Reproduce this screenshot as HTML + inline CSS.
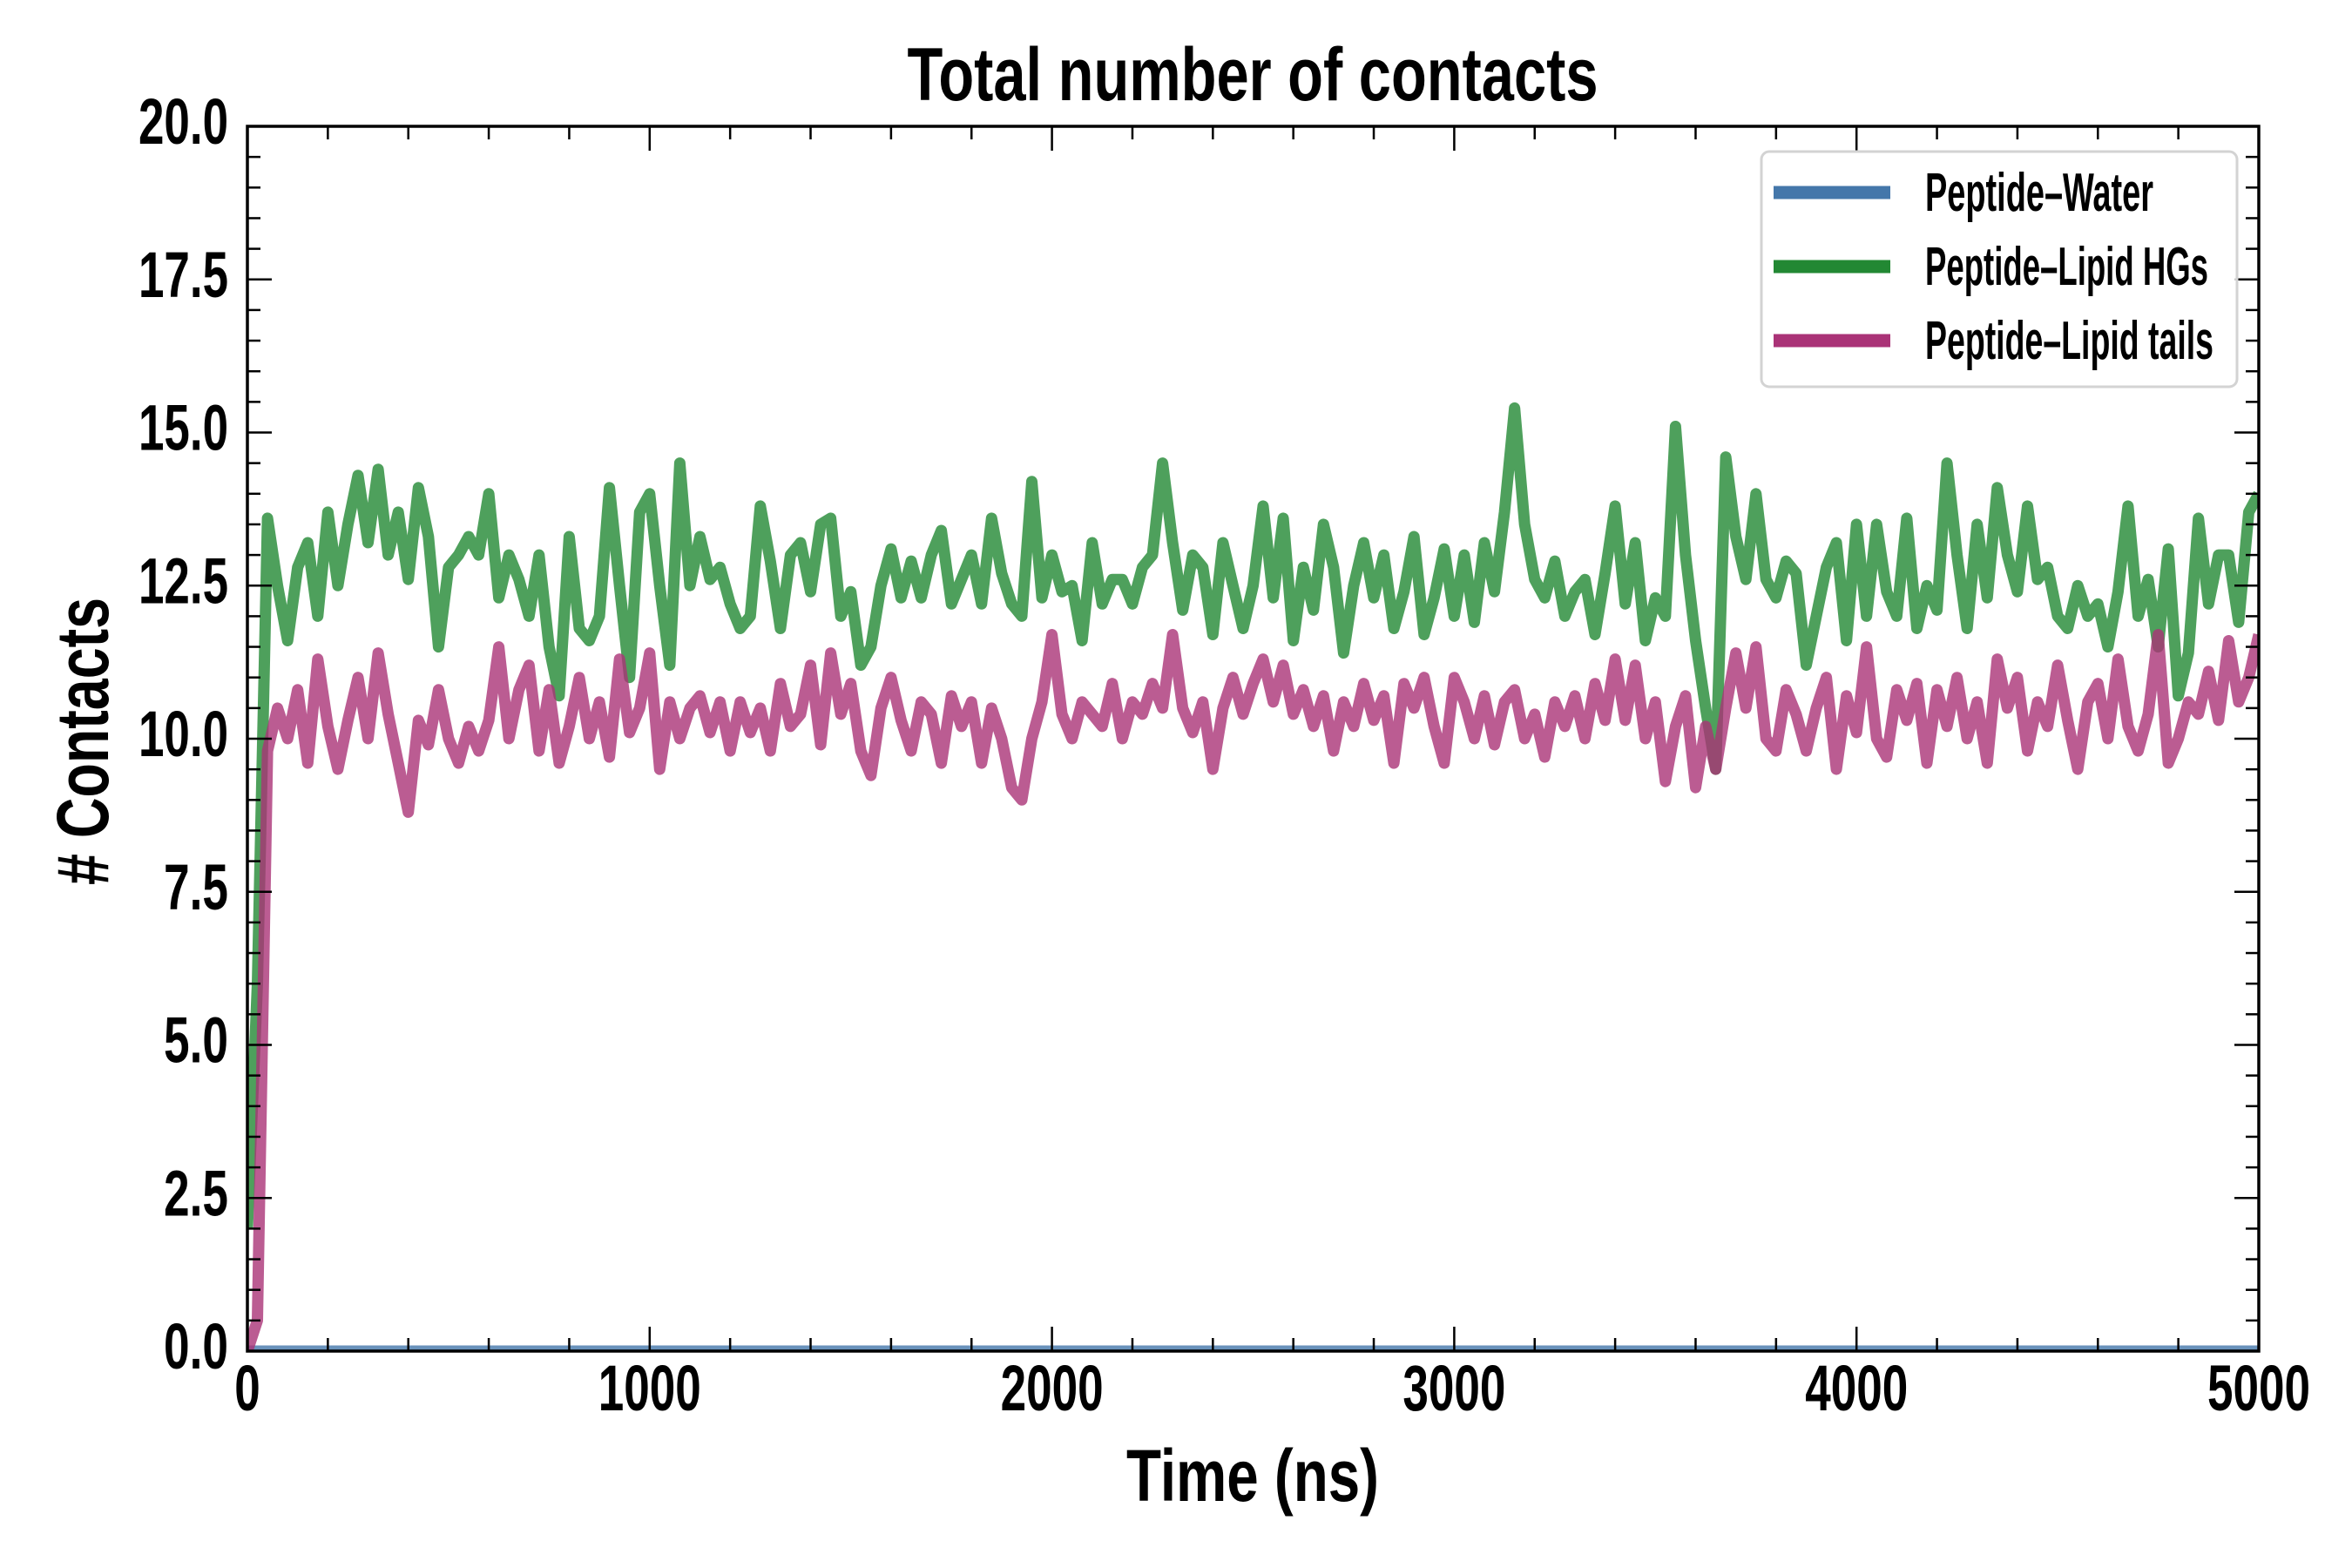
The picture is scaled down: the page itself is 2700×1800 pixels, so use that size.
<!DOCTYPE html>
<html><head><meta charset="utf-8"><style>
html,body{margin:0;padding:0;background:#fff;}
svg{display:block;}
text{font-family:"Liberation Sans Narrow","Liberation Sans",sans-serif;font-weight:bold;fill:#000;}
</style></head><body>
<svg id="chart" width="2700" height="1800" viewBox="0 0 2700 1800">
<defs><clipPath id="plotclip"><rect x="284" y="145" width="2309" height="1406"/></clipPath></defs>
<g id="series" clip-path="url(#plotclip)"></g>
<g id="axes"></g>
<text x="1438" y="115" text-anchor="middle" font-size="86" textLength="793" lengthAdjust="spacingAndGlyphs">Total number of contacts</text>
<text x="1438" y="1723" text-anchor="middle" font-size="84" textLength="290" lengthAdjust="spacingAndGlyphs">Time (ns)</text>
<text transform="translate(124,851) rotate(-90)" x="0" y="0" text-anchor="middle" font-size="84" textLength="330" lengthAdjust="spacingAndGlyphs"># Contacts</text>
<g id="legend">
<rect x="2022" y="174" width="546" height="270" rx="9" fill="#fff" fill-opacity="0.8" stroke="#d3d3d3" stroke-width="3"/>
<line x1="2036" y1="221" x2="2170" y2="221" stroke="#4477aa" stroke-width="15"/>
<text x="2210" y="242" font-size="62" textLength="262" lengthAdjust="spacingAndGlyphs">Peptide–Water</text>
<line x1="2036" y1="306" x2="2170" y2="306" stroke="#228833" stroke-width="15"/>
<text x="2210" y="327" font-size="62" textLength="325" lengthAdjust="spacingAndGlyphs">Peptide–Lipid HGs</text>
<line x1="2036" y1="391" x2="2170" y2="391" stroke="#aa3377" stroke-width="15"/>
<text x="2210" y="412" font-size="62" textLength="331" lengthAdjust="spacingAndGlyphs">Peptide–Lipid tails</text>
</g>
</svg>
<script>
const timeStep = 25;
const waterValues = [0, 0];
const waterTimes = [0, 5000];
const hgValues = [
2.0,6.0,13.6,12.5,11.6,12.8,13.2,12.0,
13.7,12.5,13.5,14.3,13.2,14.4,13.0,13.7,
12.6,14.1,13.3,11.5,12.8,13.0,13.3,13.0,
14.0,12.3,13.0,12.6,12.0,13.0,11.5,10.7,
13.3,11.8,11.6,12.0,14.1,12.5,11.0,13.7,
14.0,12.5,11.2,14.5,12.5,13.3,12.6,12.8,
12.2,11.8,12.0,13.8,12.9,11.8,13.0,13.2,
12.4,13.5,13.6,12.0,12.4,11.2,11.5,12.5,
13.1,12.3,12.9,12.3,13.0,13.4,12.2,12.6,
13.0,12.2,13.6,12.7,12.2,12.0,14.2,12.3,
13.0,12.4,12.5,11.6,13.2,12.2,12.6,12.6,
12.2,12.8,13.0,14.5,13.2,12.1,13.0,12.8,
11.7,13.2,12.5,11.8,12.5,13.8,12.3,13.6,
11.6,12.8,12.1,13.5,12.8,11.4,12.5,13.2,
12.3,13.0,11.8,12.4,13.3,11.7,12.3,13.1,
12.0,13.0,11.9,13.2,12.4,13.7,15.4,13.5,
12.6,12.3,12.9,12.0,12.4,12.6,11.7,12.7,
13.8,12.2,13.2,11.6,12.3,12.0,15.1,13.0,
11.6,10.5,9.5,14.6,13.3,12.6,14.0,12.6,
12.3,12.9,12.7,11.2,12.0,12.8,13.2,11.6,
13.5,12.0,13.5,12.4,12.0,13.6,11.8,12.5,
12.1,14.5,13.0,11.8,13.5,12.3,14.1,13.0,
12.4,13.8,12.6,12.8,12.0,11.8,12.5,12.0,
12.2,11.5,12.4,13.8,12.0,12.6,11.5,13.1,
10.7,11.4,13.6,12.2,13.0,13.0,11.9,13.7,
14.0];
const tailValues = [
0.0,0.5,9.8,10.5,10.0,10.8,9.6,11.3,
10.2,9.5,10.3,11.0,10.0,11.4,10.4,9.6,
8.8,10.3,9.9,10.8,10.0,9.6,10.2,9.8,
10.3,11.5,10.0,10.8,11.2,9.8,10.8,9.6,
10.2,11.0,10.0,10.6,9.7,11.3,10.1,10.5,
11.4,9.5,10.6,10.0,10.5,10.7,10.1,10.6,
9.8,10.6,10.1,10.5,9.8,10.9,10.2,10.4,
11.2,9.9,11.4,10.4,10.9,9.8,9.4,10.5,
11.0,10.3,9.8,10.6,10.4,9.6,10.7,10.2,
10.6,9.6,10.5,10.0,9.2,9.0,10.0,10.6,
11.7,10.4,10.0,10.6,10.4,10.2,10.9,10.0,
10.6,10.4,10.9,10.5,11.7,10.5,10.1,10.6,
9.5,10.5,11.0,10.4,10.9,11.3,10.6,11.2,
10.4,10.8,10.2,10.7,9.8,10.6,10.2,10.9,
10.3,10.7,9.6,10.9,10.5,11.0,10.2,9.6,
11.0,10.6,10.0,10.7,9.9,10.6,10.8,10.0,
10.4,9.7,10.6,10.2,10.7,10.0,10.9,10.3,
11.3,10.3,11.2,10.0,10.6,9.3,10.2,10.7,
9.2,10.2,9.5,10.5,11.4,10.5,11.5,10.0,
9.8,10.8,10.4,9.8,10.5,11.0,9.5,10.7,
10.1,11.5,10.0,9.7,10.8,10.3,10.9,9.6,
10.8,10.2,11.0,10.0,10.6,9.6,11.3,10.5,
11.0,9.8,10.6,10.2,11.2,10.3,9.5,10.6,
10.9,10.0,11.3,10.2,9.8,10.4,11.7,9.6,
10.0,10.6,10.4,11.1,10.3,11.6,10.6,11.0,
11.7];
const xTickLabels = ["0","1000","2000","3000","4000","5000"];
const yTickLabels = ["0.0","2.5","5.0","7.5","10.0","12.5","15.0","17.5","20.0"];

const NS = "http://www.w3.org/2000/svg";
const L = 284, R = 2593, T = 145, B = 1551;
const xMax = 5000, yMax = 20;
function xs(v){ return L + (v / xMax) * (R - L); }
function ys(v){ return B - (v / yMax) * (B - T); }

const seriesG = document.getElementById('series');
function drawLine(times, vals, color, name){
  const p = document.createElementNS(NS, 'path');
  let d = '';
  for (let i = 0; i < vals.length; i++){
    d += (i ? 'L' : 'M') + xs(times[i]).toFixed(1) + ',' + ys(vals[i]).toFixed(1);
  }
  p.setAttribute('d', d);
  p.setAttribute('fill', 'none');
  p.setAttribute('stroke', color);
  p.setAttribute('stroke-opacity', '0.8');
  p.setAttribute('stroke-width', '13');
  p.setAttribute('stroke-linejoin', 'round');
  
  
  seriesG.appendChild(p);
}
const hgTimes = hgValues.map((_, i) => i * timeStep);
const tailTimes = tailValues.map((_, i) => i * timeStep);
drawLine(waterTimes, waterValues, '#4477aa', 'series-peptide-water');
drawLine(hgTimes, hgValues, '#228833', 'series-peptide-lipid-hgs');
drawLine(tailTimes, tailValues, '#aa3377', 'series-peptide-lipid-tails');

const axesG = document.getElementById('axes');
function ln(x1,y1,x2,y2,w,name){
  const l = document.createElementNS(NS,'line');
  l.setAttribute('x1',x1); l.setAttribute('y1',y1); l.setAttribute('x2',x2); l.setAttribute('y2',y2);
  l.setAttribute('stroke','#000'); l.setAttribute('stroke-width',w);
  
  
  axesG.appendChild(l);
}
function tx(x,y,s,anchor,len,name){
  const t = document.createElementNS(NS,'text');
  t.setAttribute('x',x); t.setAttribute('y',y);
  t.setAttribute('text-anchor',anchor);
  t.setAttribute('font-size','74');
  t.setAttribute('textLength',len);
  t.setAttribute('lengthAdjust','spacingAndGlyphs');
  t.textContent = s;
  
  
  axesG.appendChild(t);
}
const fr = document.createElementNS(NS,'rect');
fr.setAttribute('x',L); fr.setAttribute('y',T); fr.setAttribute('width',R-L); fr.setAttribute('height',B-T);
fr.setAttribute('fill','none'); fr.setAttribute('stroke','#000'); fr.setAttribute('stroke-width','3.5');


axesG.appendChild(fr);
for (let v = 0; v <= xMax; v += 200){
  const major = v % 1000 === 0; const len = major ? 28 : 15; const x = xs(v);
  ln(x,B,x,B-len,2.5,'x-tick');
  ln(x,T,x,T+len,2.5,'x-tick-top');
}
xTickLabels.forEach(s => { tx(xs(+s), 1619, s, 'middle', s.length*29.5, 'x-tick-label'); });
for (let k = 0; k <= 40; k++){
  const v = k * 0.5; const major = k % 5 === 0; const len = major ? 28 : 15; const y = ys(v);
  ln(L,y,L+len,y,2.5,'y-tick');
  ln(R,y,R-len,y,2.5,'y-tick-right');
}
yTickLabels.forEach(s => { tx(262, ys(+s)+20, s, 'end', s.length===3 ? 74 : 103, 'y-tick-label'); });
</script>
</body></html>
